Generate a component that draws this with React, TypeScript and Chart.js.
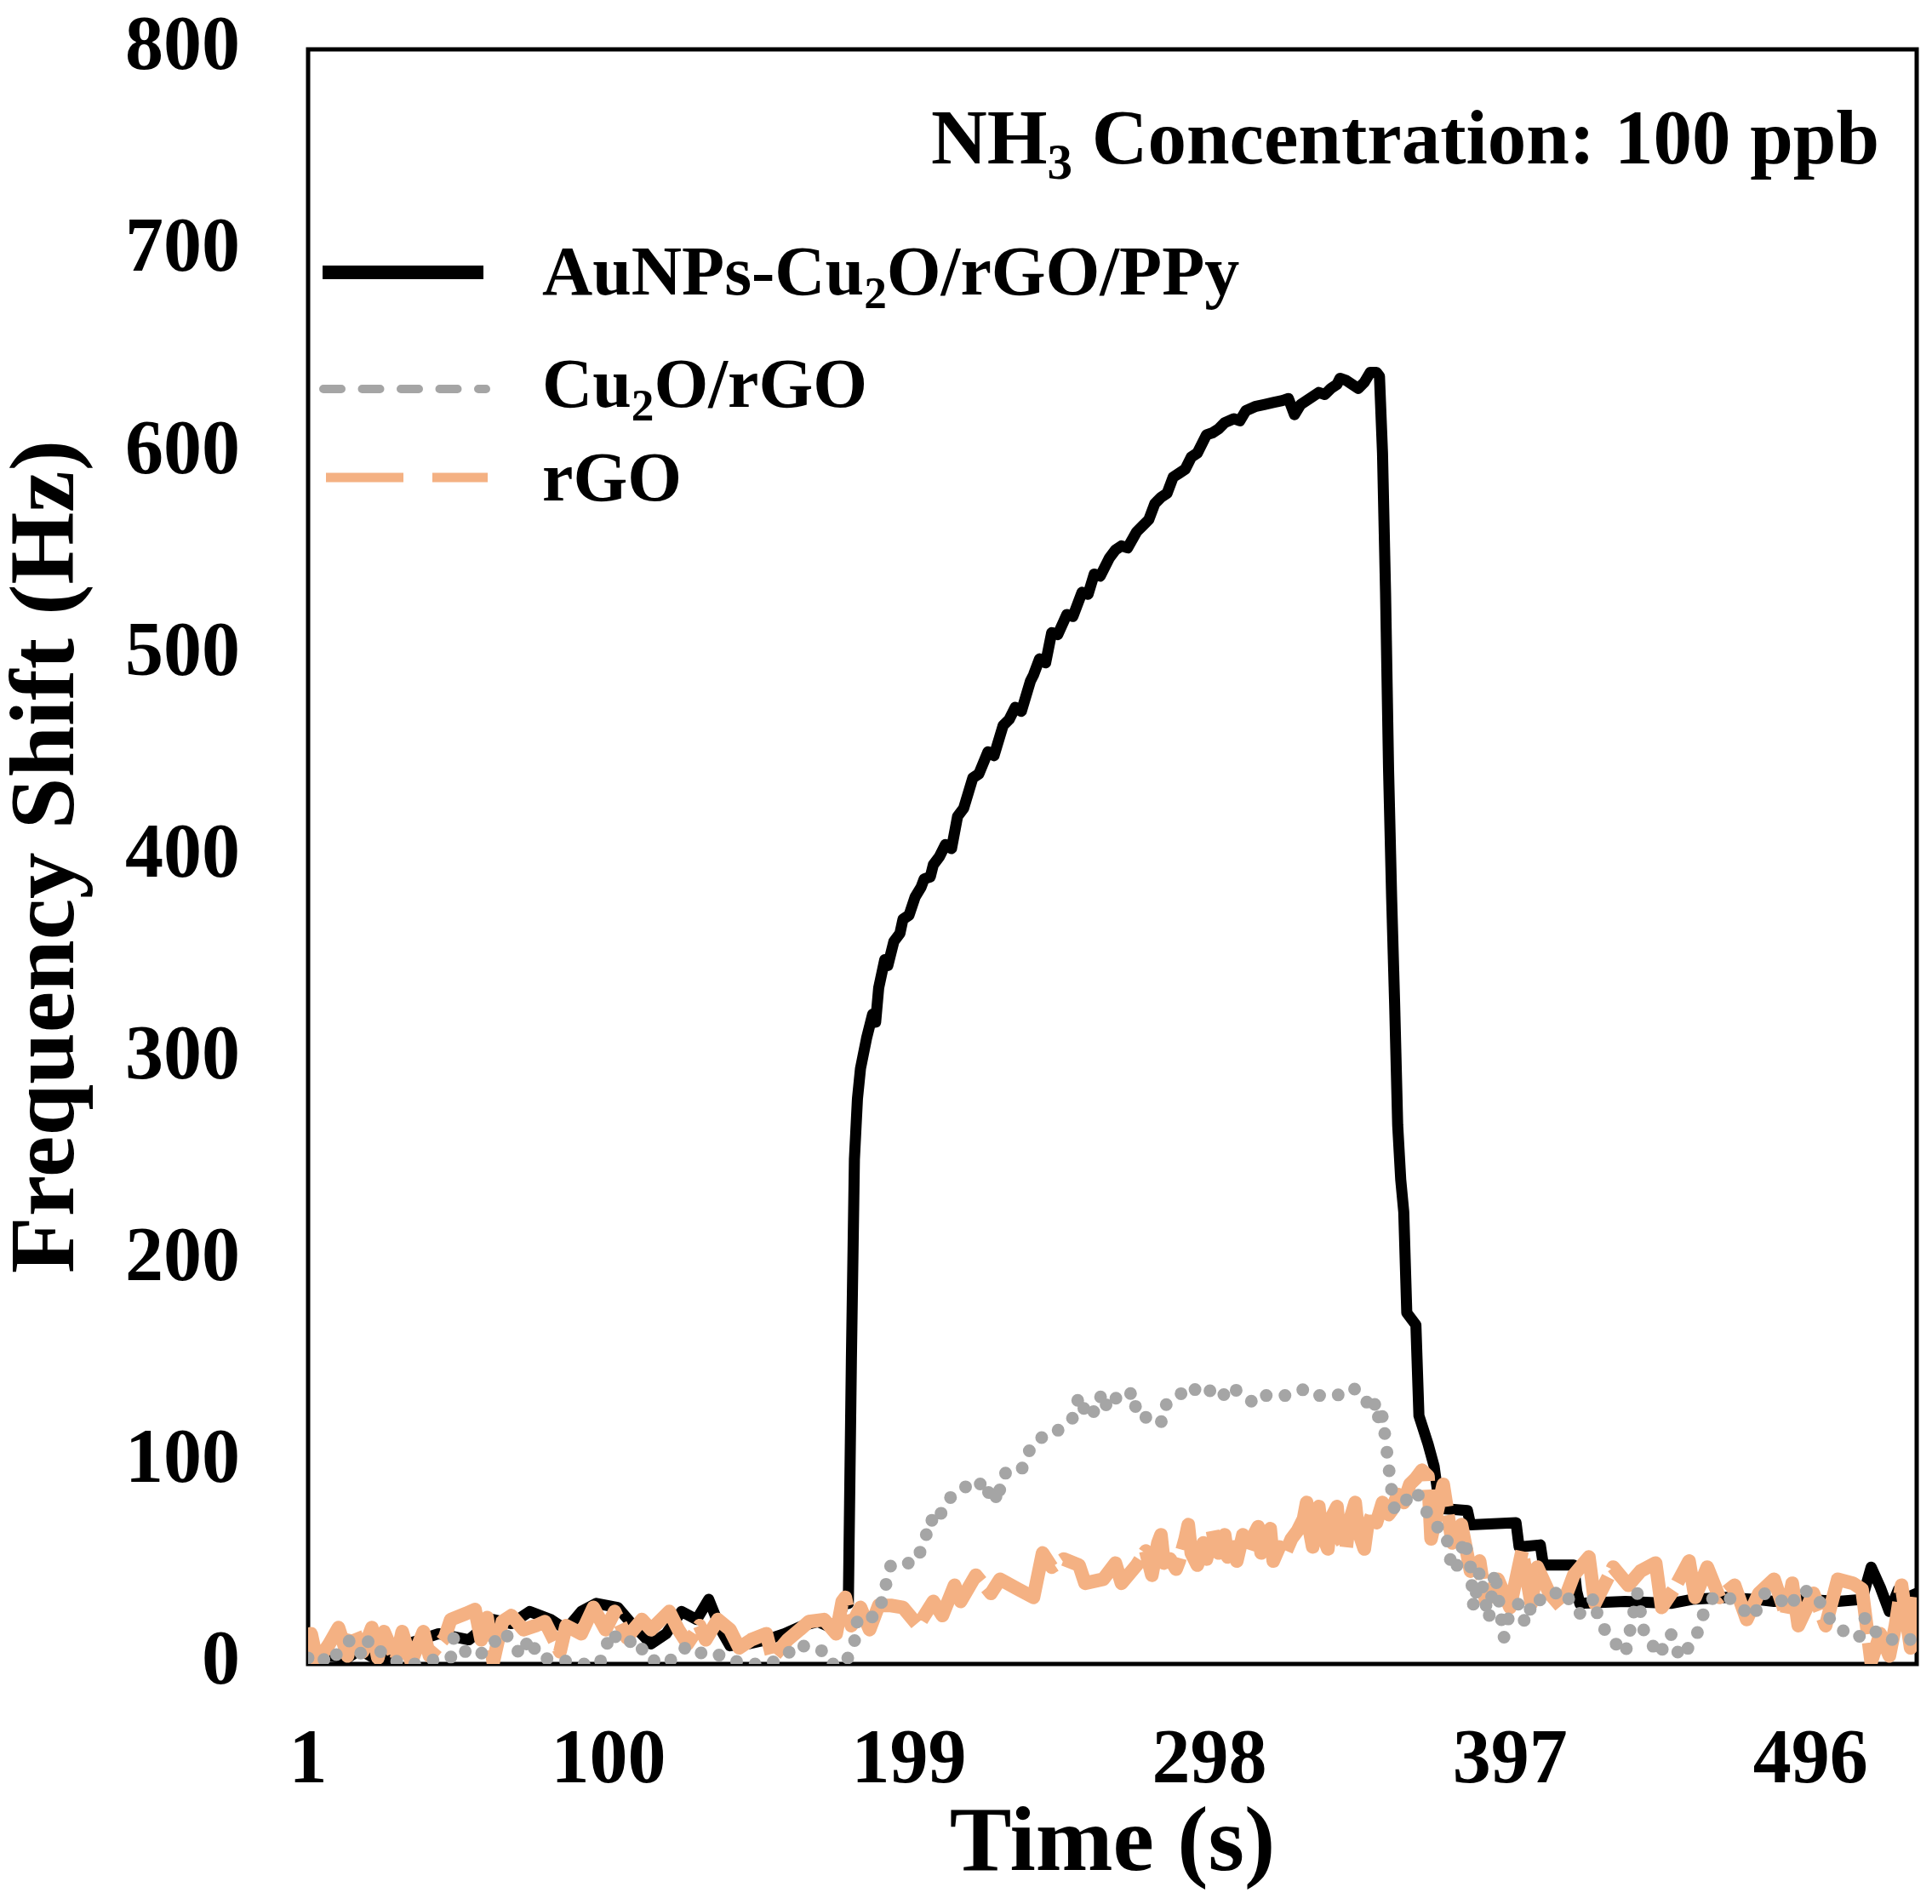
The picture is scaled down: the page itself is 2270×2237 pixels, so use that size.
import React, { useEffect, useRef } from "react";
import { Chart, registerables } from "chart.js";

Chart.register(...registerables);

const FONT = '"Liberation Serif", "Times New Roman", serif';

const X_TICKS = [1, 100, 199, 298, 397, 496];
const X_MIN = 1;
const X_MAX = 531;
const Y_MIN = 0;
const Y_MAX = 800;
const Y_STEP = 100;

const X_TITLE = "Time (s)";
const Y_TITLE = "Frequency Shift (Hz)";

// [text, isSubscript]
const ANNOTATION: [string, boolean][] = [["NH", false], ["3", true], [" Concentration: 100 ppb", false]];
const LABEL_HYBRID: [string, boolean][] = [["AuNPs-Cu", false], ["2", true], ["O/rGO/PPy", false]];
const LABEL_CU2O: [string, boolean][] = [["Cu", false], ["2", true], ["O/rGO", false]];
const LABEL_RGO: [string, boolean][] = [["rGO", false]];

// AuNPs-Cu2O/rGO/PPy
const hybridTime = [
  1, 8, 14, 18, 25, 34, 44, 54, 62, 68, 74, 81, 86, 91, 96, 103, 107, 114, 119, 124, 129, 133, 137, 140, 146, 152,
  158, 164, 169, 175, 178, 179, 180, 181, 182, 183, 185, 187, 188, 189, 191, 192, 194, 196, 197, 199, 201, 203, 204,
  206, 207, 209, 211, 213, 215, 217, 220, 222, 225, 227, 230, 232, 234, 236, 239, 240, 242, 244, 246, 248, 251, 253,
  256, 258, 260, 262, 265, 267, 269, 271, 274, 276, 278, 280, 282, 284, 286, 288, 290, 292, 294, 297, 299, 301, 303,
  306, 308, 310, 313, 316, 319, 322, 324, 326, 328, 330, 332, 334, 336, 338, 340, 341, 343, 345, 347, 349, 351, 353,
  354, 355, 356, 357, 358, 359, 360, 361, 362, 363, 366, 367, 370, 372, 373, 375, 383, 384, 399, 400, 407, 408, 418,
  419, 420, 435, 450, 457, 468, 478, 484, 495, 505, 513, 516, 519, 522, 525, 528, 531,
];
const hybridShift = [
  0, 4, 3, 7, 1, 10, 15, 12, 22, 20, 26, 22, 17, 26, 30, 28, 21, 10, 15, 26, 22, 32, 17, 9, 10, 12,
  15, 19, 21, 17, 33, 30, 150, 250, 280, 295, 310, 322, 318, 335, 349, 346, 358, 362, 369, 371, 380, 385, 389,
  390, 396, 400, 406, 404, 420, 424, 439, 441, 452, 450, 465, 468, 474, 472, 487, 490, 498, 496, 511, 510, 520, 519,
  531, 530, 540, 539, 548, 552, 554, 553, 561, 564, 567, 575, 578, 580, 588, 590, 592, 598, 600, 609, 610, 612, 615,
  617, 616, 621, 623, 624, 625, 626, 627, 619, 624, 626, 628, 630, 629, 632, 634, 637, 636, 634, 632, 635, 640, 640,
  638, 600, 531, 443, 380, 327, 267, 240, 224, 174, 168, 123, 109, 98, 87, 77, 76, 69, 70, 58, 59, 49, 49,
  36, 30, 31, 30, 32, 33, 32, 31, 32, 31, 32, 48, 38, 26, 37, 33, 35,
];

// Cu2O/rGO
const cu2oTime = [
  1, 4, 8, 12, 15, 19, 21, 25, 28, 32, 36, 42, 48, 49, 54, 60, 65, 68, 71, 74, 77, 84, 91, 97, 101, 104, 110, 112,
  119, 125, 127, 134, 140, 146, 153, 159, 162, 166, 170, 173, 178, 181, 182, 184, 189, 191, 193, 197, 201, 204, 206,
  208, 211, 215, 218, 222, 224, 227, 228, 230, 233, 236, 239, 242, 246, 249, 253, 255, 257, 259, 262, 263, 266, 268,
  273, 274, 278, 282, 283, 286, 290, 292, 295, 299, 302, 305, 308, 313, 316, 323, 329, 332, 335, 340, 345, 349, 351,
  353, 354, 355, 356, 357, 358, 359, 362, 366, 370, 373, 376, 377, 379, 382, 384, 385, 387, 390, 392, 395, 397, 400,
  402, 405, 408, 414, 420, 425, 426, 430, 435, 439, 441, 446, 450, 453, 458, 461, 464, 469, 473, 477, 481, 486, 489,
  493, 498, 500, 503, 506, 512, 514, 518, 522, 528, 531,
];
const cu2oShift = [
  3, 5, 0, 8, 12, 4, 12, 6, 3, 0, 0, 2, 3, 13, 4, 6, 16, 12, 4, 13, 3, 2, 0, 0, 16, 10, 12, 3,
  0, 8, 5, 6, 2, 0, 0, 5, 10, 8, 7, 0, 0, 11, 22, 21, 25, 37, 49, 50, 50, 60, 72,
  69, 80, 86, 88, 91, 83, 88, 80, 94, 96, 96, 107, 112, 113, 117, 122, 133, 125, 122, 133, 126, 134, 130,
  135, 123, 122, 119, 128, 130, 136, 138, 133, 136, 132, 138, 134, 129, 133, 133, 136, 133, 133, 133, 137, 133, 125,
  130, 118, 123, 111, 98, 86, 76, 80, 86, 74, 68, 65, 53, 46, 62, 48, 28, 46, 22, 46, 13, 26, 30,
  20, 33, 31, 37, 25, 33, 22, 13, 5, 35, 17, 4, 15, 3, 12, 26, 33, 33, 28, 23, 35, 32, 28,
  37, 34, 28, 21, 17, 13, 23, 15, 12, 13, 10,
];

// rGO
const rgoTime = [
  1, 2, 4, 8, 11, 14, 16, 19, 22, 24, 26, 30, 32, 35, 39, 41, 46, 48, 53, 56, 58, 60, 62, 65, 68, 72, 76, 79, 84, 86,
  91, 95, 99, 102, 106, 111, 114, 120, 123, 126, 130, 132, 136, 140, 143, 147, 152, 154, 159, 163, 166, 171, 175,
  177, 178, 180, 183, 186, 189, 193, 197, 202, 207, 210, 214, 216, 221, 226, 229, 235, 240, 243, 246, 250, 255, 257,
  263, 267, 269, 274, 277, 279, 281, 282, 283, 285, 287, 288, 290, 291, 292, 294, 296, 297, 299, 300, 301, 303, 304,
  306, 307, 309, 311, 313, 314, 315, 317, 318, 319, 321, 323, 325, 327, 329, 330, 331, 332, 333, 334, 335, 337, 338,
  340, 341, 343, 344, 346, 347, 349, 350, 352, 353, 355, 357, 358, 360, 362, 364, 366, 368, 370, 371, 375, 378, 381,
  384, 387, 389, 393, 397, 401, 404, 406, 410, 414, 418, 423, 425, 431, 436, 440, 445, 447, 451, 456, 458, 462, 466,
  471, 475, 479, 484, 488, 490, 492, 497, 501, 505, 510, 513, 516, 519, 522, 524, 526, 529, 531,
];
const rgoShift = [
  12, 15, 1, 10, 18, 4, 17, 6, 18, 3, 16, 2, 16, 1, 16, 4, 13, 22, 25, 27, 12, 23, 1, 21, 24, 17, 19, 21, 6, 19,
  15, 28, 17, 26, 13, 22, 17, 26, 17, 10, 19, 12, 22, 17, 8, 12, 15, 3, 12, 17, 21, 22, 15,
  31, 33, 19, 28, 17, 29, 29, 28, 19, 31, 24, 39, 31, 44, 35, 42, 37, 33, 55, 48, 52, 49, 40,
  42, 50, 40, 49, 56, 44, 60, 64, 50, 52, 47, 51, 62, 69, 55, 49, 60, 52, 66, 58, 55, 64, 53,
  58, 51, 64, 56, 65, 68, 55, 60, 67, 51, 58, 55, 62, 66, 72, 80, 66, 58, 70, 78, 65, 57, 72,
  78, 62, 57, 70, 80, 66, 57, 68, 76, 70, 80, 74, 76, 84, 80, 89, 92, 96, 93, 62, 89, 60, 69,
  46, 51, 31, 42, 28, 56, 30, 48, 35, 28, 44, 53, 30, 48, 39, 46, 50, 28, 37, 51, 33, 48, 33,
  39, 22, 35, 42, 24, 40, 19, 35, 19, 42, 40, 37, 1, 15, 4, 19, 39, 8, 33,
];

const BLACK = "#000000";
const GRAY = "#A5A5A5";
const ORANGE = "#F4B183";

function pairs(t: number[], v: number[]) {
  return t.map((x, i) => ({ x, y: v[i] }));
}

function drawRich(
  ctx: CanvasRenderingContext2D,
  parts: [string, boolean][],
  x: number,
  y: number,
  size: number,
  align: "left" | "right"
) {
  const subSize = size * 0.65;
  const widths = parts.map(([s, sub]) => {
    ctx.font = `bold ${sub ? subSize : size}px ${FONT}`;
    return ctx.measureText(s).width;
  });
  const total = widths.reduce((a, b) => a + b, 0);
  let cx = align === "right" ? x - total : x;
  ctx.textAlign = "left";
  ctx.textBaseline = "alphabetic";
  ctx.fillStyle = "#000";
  parts.forEach(([s, sub], i) => {
    ctx.font = `bold ${sub ? subSize : size}px ${FONT}`;
    ctx.fillText(s, cx, y + (sub ? size * 0.2 : 0));
    cx += widths[i];
  });
}

const framePlugin = {
  id: "frame",
  beforeDatasetsDraw(chart: any) {
    const { ctx, chartArea: a } = chart;
    ctx.save();
    ctx.strokeStyle = "#000";
    ctx.lineWidth = 5;
    ctx.strokeRect(a.left, a.top, a.right - a.left, a.bottom - a.top);
    ctx.restore();
  },
};

const decorPlugin = {
  id: "decor",
  afterDraw(chart: any) {
    const { ctx } = chart;
    ctx.save();
    drawRich(ctx, ANNOTATION, 2208, 192, 91, "right");

    ctx.lineCap = "butt";
    ctx.strokeStyle = BLACK;
    ctx.lineWidth = 16;
    ctx.setLineDash([]);
    ctx.beginPath();
    ctx.moveTo(379, 320);
    ctx.lineTo(568, 320);
    ctx.stroke();

    ctx.strokeStyle = GRAY;
    ctx.lineWidth = 10;
    ctx.lineCap = "round";
    ctx.setLineDash([21, 24.5]);
    ctx.beginPath();
    ctx.moveTo(380, 457);
    ctx.lineTo(571, 457);
    ctx.stroke();

    ctx.strokeStyle = ORANGE;
    ctx.lineWidth = 11;
    ctx.lineCap = "butt";
    ctx.setLineDash([91, 34]);
    ctx.beginPath();
    ctx.moveTo(383, 561);
    ctx.lineTo(573, 561);
    ctx.stroke();
    ctx.setLineDash([]);

    drawRich(ctx, LABEL_HYBRID, 637, 346, 82, "left");
    drawRich(ctx, LABEL_CU2O, 637, 478, 82, "left");
    drawRich(ctx, LABEL_RGO, 637, 588, 82, "left");
    ctx.restore();
  },
};

export default function App() {
  const ref = useRef<HTMLCanvasElement | null>(null);

  useEffect(() => {
    if (!ref.current) return;
    const chart = new Chart(ref.current, {
      type: "line",
      data: {
        datasets: [
          {
            label: "AuNPs-Cu2O/rGO/PPy",
            data: pairs(hybridTime, hybridShift),
            borderColor: BLACK,
            borderWidth: 13,
            borderJoinStyle: "round",
            borderCapStyle: "round",
            pointRadius: 0,
            tension: 0,
            order: 3,
          },
          {
            label: "Cu2O/rGO",
            data: pairs(cu2oTime, cu2oShift),
            borderColor: GRAY,
            borderWidth: 15,
            borderCapStyle: "round",
            borderJoinStyle: "round",
            borderDash: [0, 22],
            pointRadius: 0,
            tension: 0,
            order: 1,
          },
          {
            label: "rGO",
            data: pairs(rgoTime, rgoShift),
            borderColor: ORANGE,
            borderWidth: 16,
            borderJoinStyle: "round",
            borderCapStyle: "butt",
            borderDash: [150, 10],
            pointRadius: 0,
            tension: 0,
            order: 2,
          },
        ],
      },
      options: {
        animation: false,
        responsive: false,
        devicePixelRatio: 1,
        layout: { autoPadding: false, padding: { top: 58, right: 18, left: 0, bottom: 0 } },
        plugins: {
          legend: { display: false },
          tooltip: { enabled: false },
        },
        scales: {
          x: {
            type: "linear",
            min: X_MIN,
            max: X_MAX,
            grid: { display: false, drawTicks: false },
            border: { display: false },
            afterBuildTicks: (scale: any) => {
              scale.ticks = X_TICKS.map((v) => ({ value: v }));
            },
            afterFit: (scale: any) => {
              scale.height = 282;
              scale.paddingLeft = 0;
              scale.paddingRight = 0;
            },
            ticks: {
              autoSkip: false,
              maxRotation: 0,
              padding: 62,
              color: "#000",
              font: { family: FONT, size: 90, weight: "bold" },
              callback: (v: any) => String(v),
            },
            title: {
              display: true,
              text: X_TITLE,
              color: "#000",
              font: { family: FONT, size: 109, weight: "bold", lineHeight: 1 },
              padding: { top: 0, bottom: 14 },
            },
          },
          y: {
            min: Y_MIN,
            max: Y_MAX,
            grid: { display: false, drawTicks: false },
            border: { display: false },
            afterFit: (scale: any) => {
              scale.width = 362;
              scale.paddingTop = 0;
              scale.paddingBottom = 0;
            },
            ticks: {
              stepSize: Y_STEP,
              padding: 80,
              color: "#000",
              font: { family: FONT, size: 90, weight: "bold" },
            },
            title: {
              display: true,
              text: Y_TITLE,
              color: "#000",
              font: { family: FONT, size: 109, weight: "bold", lineHeight: 1 },
              padding: { top: 3, bottom: 0 },
            },
          },
        },
      } as any,
      plugins: [framePlugin, decorPlugin],
    });
    return () => chart.destroy();
  }, []);

  return (
    <canvas
      ref={ref}
      width={2270}
      height={2237}
      style={{ position: "absolute", left: 0, top: 0, width: 2270, height: 2237, background: "#fff" }}
    />
  );
}
